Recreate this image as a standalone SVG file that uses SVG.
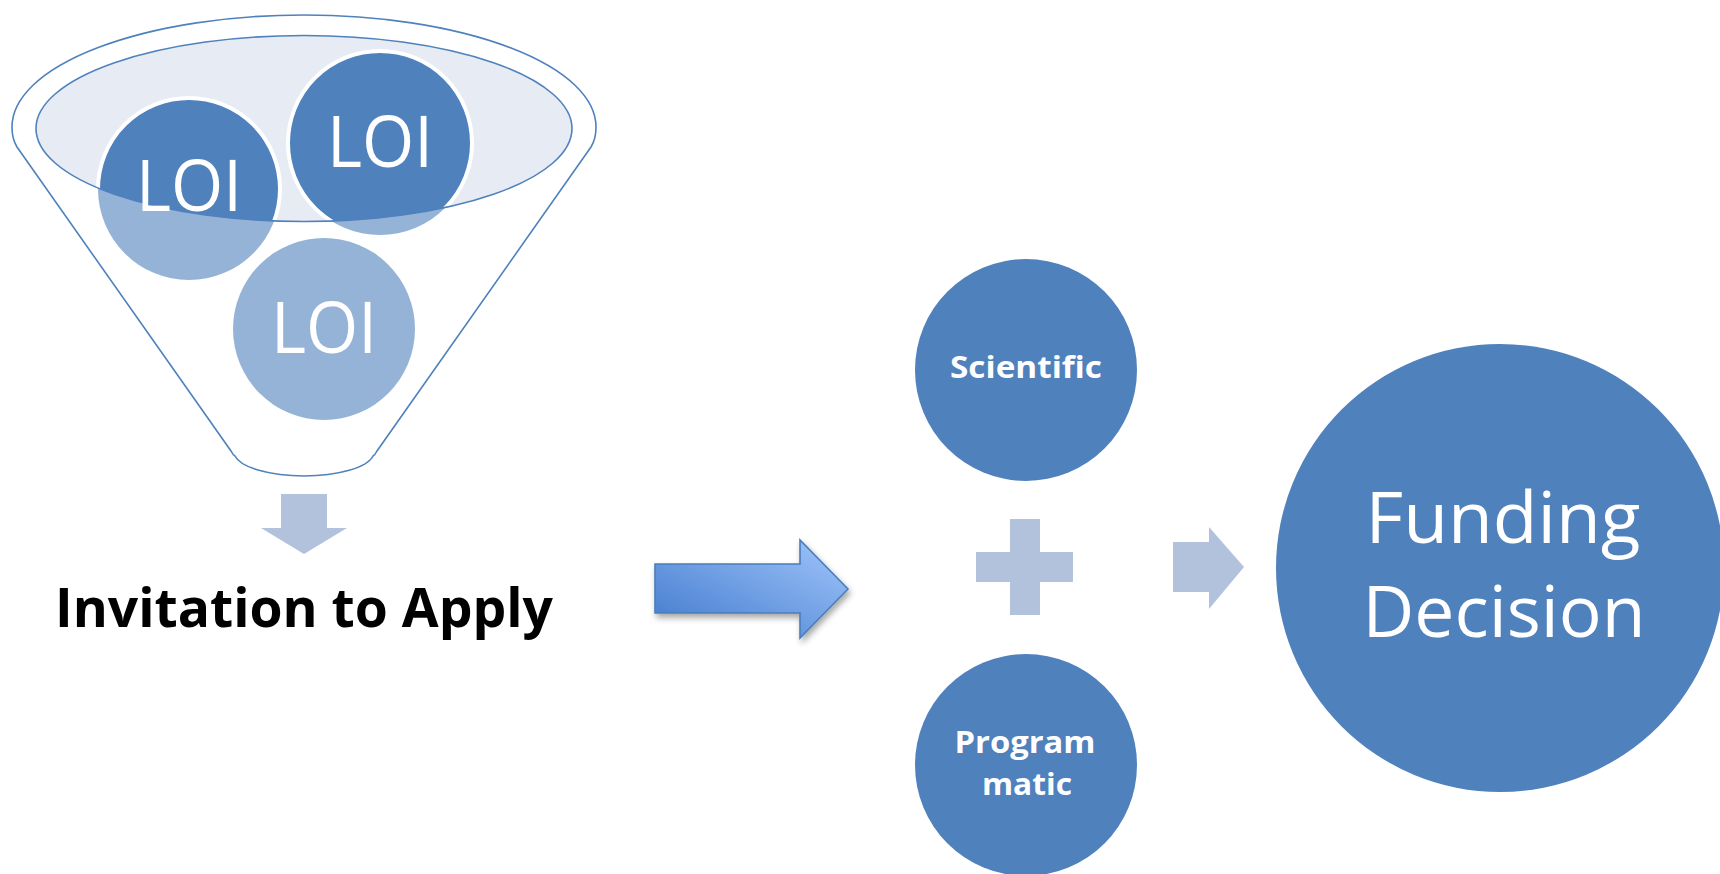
<svg xmlns="http://www.w3.org/2000/svg" width="1720" height="874" viewBox="0 0 1720 874">
  <style>
    .dark { fill: #4f81bd; }
    .light { fill: #95b3d7; }
    .tint { fill: #b3c2dc; }
    .funnel { fill: none; stroke: #4f81bd; stroke-width: 1.6; }
    .loi { font-family: "Open Sans", "Noto Sans", sans-serif; font-size: 72px; fill: #ffffff; text-anchor: middle; }
    .small { font-family: "Open Sans", "Noto Sans", sans-serif; font-weight: bold; font-size: 31px; fill: #ffffff; text-anchor: middle; }
    .big { font-family: "Open Sans", "Noto Sans", sans-serif; font-size: 71px; fill: #ffffff; text-anchor: middle; }
    .label { font-family: "Open Sans", "Noto Sans", sans-serif; font-weight: bold; font-size: 54px; fill: #000000; text-anchor: middle; }
  </style>
  <defs>
    <clipPath id="rim">
      <ellipse cx="304" cy="128.5" rx="268" ry="93"/>
    </clipPath>
    <linearGradient id="arrowGrad" x1="0" y1="1" x2="1" y2="0">
      <stop offset="0" stop-color="#3f79cc"/>
      <stop offset="1" stop-color="#a2c6fc"/>
    </linearGradient>
    <filter id="shadow" x="-20%" y="-20%" width="150%" height="160%">
      <feDropShadow dx="2" dy="4" stdDeviation="3" flood-color="#000000" flood-opacity="0.35"/>
    </filter>
  </defs>
  <rect width="1720" height="874" fill="#ffffff"/>

  <g id="funnel">
    <path class="funnel" d="M 12 127 A 292 112 0 0 1 596 127 Q 596 139 591 147 L 377 451 Q 375 455 373 456 A 70 24 0 0 1 235 456 Q 233 455 231 451 L 17 147 Q 12 139 12 127 Z"/>
    <ellipse cx="304" cy="128.5" rx="268" ry="93" fill="#e6ebf4"/>
  </g>

  <g id="loi-circles-light">
    <circle class="light" cx="189" cy="189" r="91"/>
    <circle class="light" cx="380" cy="143" r="92"/>
  </g>

  <g clip-path="url(#rim)">
    <circle class="dark" cx="189" cy="189" r="91" stroke="#ffffff" stroke-width="4"/>
    <circle class="dark" cx="380" cy="143" r="92" stroke="#ffffff" stroke-width="4"/>
  </g>

  <ellipse cx="304" cy="128.5" rx="268" ry="93" fill="none" stroke="#4f81bd" stroke-width="1.6"/>

  <g id="loi-1">
    <text class="loi" x="189" y="211" textLength="106" lengthAdjust="spacingAndGlyphs">LOI</text>
  </g>
  <g id="loi-2">
    <text class="loi" x="380" y="167" textLength="106" lengthAdjust="spacingAndGlyphs">LOI</text>
  </g>
  <g id="loi-3">
    <circle class="light" cx="324" cy="329" r="91"/>
    <text class="loi" x="324" y="353" textLength="106" lengthAdjust="spacingAndGlyphs">LOI</text>
  </g>

  <g id="invitation">
    <text class="label" x="304" y="627" textLength="498" lengthAdjust="spacingAndGlyphs">Invitation to Apply</text>
  </g>

  <g id="scientific">
    <circle class="dark" cx="1026" cy="370" r="111"/>
    <text class="small" x="1026" y="378" textLength="152" lengthAdjust="spacingAndGlyphs">Scientific</text>
  </g>

  <g id="programmatic">
    <circle class="dark" cx="1026" cy="765" r="111"/>
    <text class="small" x="1025" y="753" textLength="141" lengthAdjust="spacingAndGlyphs">Program</text>
    <text class="small" x="1027" y="795" textLength="90" lengthAdjust="spacingAndGlyphs">matic</text>
  </g>

  <g id="funding-decision">
    <circle class="dark" cx="1500" cy="568" r="224"/>
    <text class="big" x="1503" y="543" textLength="275" lengthAdjust="spacingAndGlyphs">Funding</text>
    <text class="big" x="1504" y="637" textLength="283" lengthAdjust="spacingAndGlyphs">Decision</text>
  </g>

  <g id="connectors">
    <path class="tint" d="M 281 494 L 327 494 L 327 528 L 347 528 L 304 554 L 261 528 L 281 528 Z"/>
    <path d="M 655 564 L 800 564 L 800 540 L 848 589 L 800 638 L 800 613 L 655 613 Z" fill="url(#arrowGrad)" stroke="#4a7ebb" stroke-width="1.6" filter="url(#shadow)"/>
    <path class="tint" d="M 1010 519 L 1040 519 L 1040 552 L 1073 552 L 1073 582 L 1040 582 L 1040 615 L 1010 615 L 1010 582 L 976 582 L 976 552 L 1010 552 Z"/>
    <path class="tint" d="M 1173 542 L 1209 542 L 1209 527 L 1244 567 L 1209 609 L 1209 592 L 1173 592 Z"/>
  </g>
</svg>
